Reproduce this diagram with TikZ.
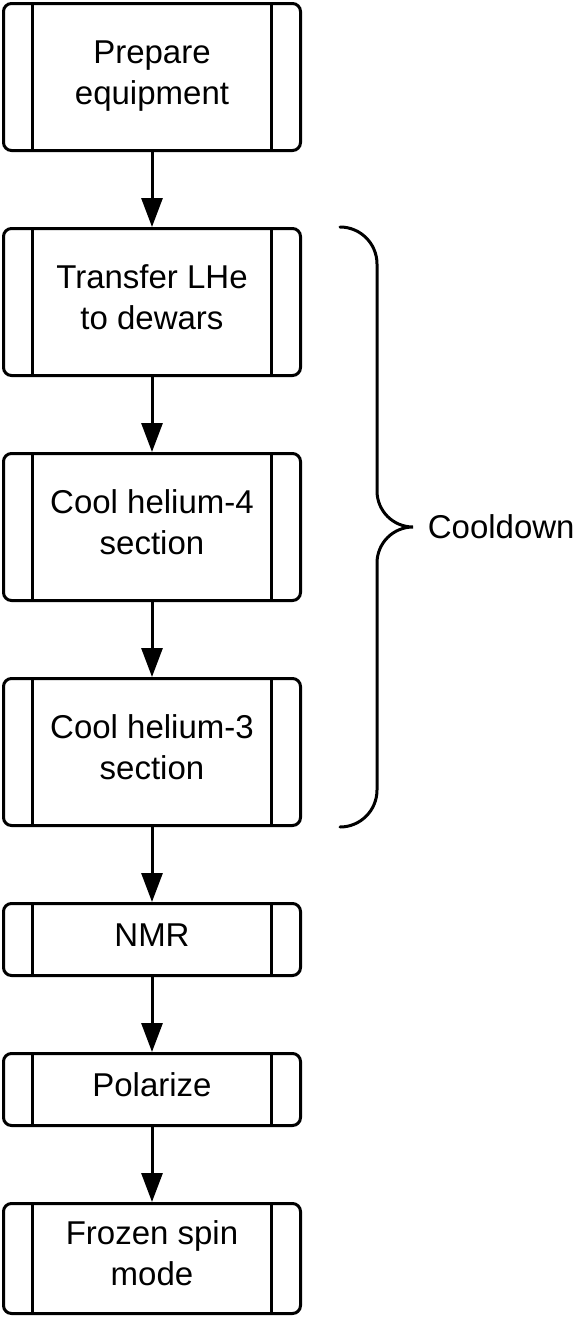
\documentclass[tikz,border=0pt]{standalone}
\usepackage{fontspec}
\setmainfont{Liberation Sans}
\usetikzlibrary{arrows.meta,positioning,calc}

\begin{document}
\begin{tikzpicture}[
        line width=3pt,
        node distance=75pt,
        font=\fontsize{33}{41}\selectfont,
        proc node/.style={draw, rounded corners=8pt, align=center,
            minimum width=297pt, minimum height=147pt,
            text height=60pt, text depth=6pt,
            path picture={
                \draw[line width=3pt]
                    ([xshift=29pt]path picture bounding box.north west)
                    -- ([xshift=29pt]path picture bounding box.south west)
                    ([xshift=-29pt]path picture bounding box.north east)
                    -- ([xshift=-29pt]path picture bounding box.south east);
            }},
        short node/.style={proc node, minimum height=72pt,
            text height=18pt, text depth=5pt},
        flow/.style={-{Triangle[length=29pt,width=21pt]}},
    ]
    \useasboundingbox (0,0) rectangle (574pt,-1317pt);

    % The steps, one below the other
    \node[proc node] (prep) at (152pt,-77pt) {Prepare\\equipment};
    \node[proc node, below=of prep] (lhe) {Transfer LHe\\to dewars};
    \node[proc node, below=of lhe] (he4) {Cool helium-4\\section};
    \node[proc node, below=of he4] (he3) {Cool helium-3\\section};
    \node[short node, below=of he3] (nmr) {NMR};
    \node[short node, below=of nmr] (pol) {Polarize};
    \node[proc node, minimum height=110pt, below=of pol] (frozen) {Frozen spin\\mode};

    \foreach \a/\b in {prep/lhe, lhe/he4, he4/he3, he3/nmr, nmr/pol, pol/frozen}
        \draw[flow] (\a) -- (\b);

    % Curly brace round the cooldown steps
    \coordinate (cd top) at ([xshift=38pt]lhe.north east);
    \coordinate (cd bottom) at ([xshift=38pt]he3.south east);
    \coordinate (cd tip) at ($(cd top)!0.5!(cd bottom) + (73pt,0)$);
    \draw[line cap=round]
        (cd top) arc[start angle=90, end angle=0, radius=37pt]
        -- ($(cd tip) + (-36pt,36pt)$)
        arc[start angle=180, end angle=270, radius=36pt]
        arc[start angle=90, end angle=180, radius=36pt]
        -- ($(cd bottom) + (37pt,37pt)$)
        arc[start angle=0, end angle=-90, radius=37pt];
    \node[anchor=west] (cooldown) at ([xshift=10pt]cd tip) {Cooldown};
\end{tikzpicture}
\end{document}
